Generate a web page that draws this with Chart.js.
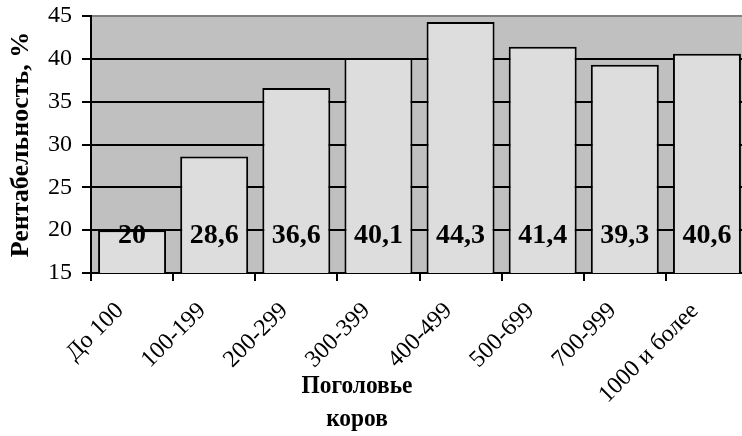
<!DOCTYPE html>
<html>
<head>
<meta charset="utf-8">
<script src="https://cdn.jsdelivr.net/npm/chart.js@4"></script>
<style>
  html, body { margin: 0; padding: 0; background: #fff; overflow: hidden; }
</style>
</head>
<body>
<canvas id="myChart" width="748" height="436"></canvas>
<script>
const categories = ['До 100', '100-199', '200-299', '300-399', '400-499', '500-699', '700-999', '1000 и более'];
const values = [20, 28.6, 36.6, 40.1, 44.3, 41.4, 39.3, 40.6];
const yTicks = [15, 20, 25, 30, 35, 40, 45];
const yTitle = 'Рентабельность, %';
const xTitle = ['Поголовье', 'коров'];

const serif = "'Times New Roman', 'Liberation Serif', serif";

// серый фон области построения
const plotBg = {
    id: 'plotBg',
    beforeDraw(chart) {
        const a = chart.chartArea;
        const c = chart.ctx;
        c.save();
        c.fillStyle = '#C0C0C0';
        c.fillRect(a.left, a.top, a.right - a.left, a.bottom - a.top);
        c.restore();
    }
};

// подписи значений у основания столбцов
const barLabels = {
    id: 'barLabels',
    afterDatasetsDraw(chart) {
        const c = chart.ctx;
        const base = chart.scales.y.getPixelForValue(yTicks[0]);
        c.save();
        c.font = 'bold 28px ' + serif;
        c.fillStyle = '#000';
        c.textAlign = 'center';
        c.textBaseline = 'middle';
        chart.getDatasetMeta(0).data.forEach((bar, i) => {
            c.fillText(String(values[i]).replace('.', ','), bar.x, base - 37);
        });
        c.restore();
    }
};

// название оси X в две строки
const xAxisTitle = {
    id: 'xAxisTitle',
    afterDraw(chart) {
        const c = chart.ctx;
        c.save();
        c.font = 'bold 26px ' + serif;
        c.fillStyle = '#000';
        c.textAlign = 'center';
        c.textBaseline = 'middle';
        xTitle.forEach((t, i) => {
            c.save();
            c.translate(357, 386 + i * 33);
            c.scale(0.9, 1);
            c.fillText(t, 0, 0);
            c.restore();
        });
        c.restore();
    }
};

const ctx = document.getElementById('myChart').getContext('2d');
const myChart = new Chart(ctx, {
    type: 'bar',
    data: {
        labels: categories,
        datasets: [{
            data: values,
            backgroundColor: '#DDDDDD',
            borderColor: '#000',
            borderWidth: 2,
            barPercentage: 0.828,
            categoryPercentage: 1
        }]
    },
    options: {
        responsive: false,
        animation: false,
        layout: { autoPadding: false, padding: { top: 16, left: 0, right: 0, bottom: 0 } },
        plugins: {
            legend: false,
            tooltip: { enabled: false }
        },
        scales: {
            x: {
                grid: {
                    offset: true,
                    drawOnChartArea: false,
                    drawTicks: true,
                    tickLength: 8,
                    color: '#000',
                    lineWidth: 2
                },
                border: { color: '#000', width: 2 },
                ticks: {
                    font: { family: serif, size: 24 },
                    color: '#000',
                    minRotation: 45,
                    maxRotation: 45,
                    padding: 16,
                    labelOffset: -12,
                    autoSkip: false
                },
                afterFit(s) {
                    s.height = 163;
                    s.paddingLeft = 0;
                    s.paddingRight = 0;
                }
            },
            y: {
                min: yTicks[0],
                max: yTicks[yTicks.length - 1],
                ticks: {
                    stepSize: 5,
                    font: { family: serif, size: 24 },
                    color: '#000',
                    padding: 10
                },
                grid: {
                    color: c => c.tick && c.tick.value === yTicks[yTicks.length - 1] ? '#808080' : '#000',
                    tickColor: '#000',
                    lineWidth: 2,
                    tickLength: 9
                },
                border: { color: '#000', width: 2 },
                title: {
                    display: true,
                    text: yTitle,
                    font: { family: serif, size: 26, weight: 'bold' },
                    color: '#000',
                    padding: { top: 6, bottom: 0 }
                },
                afterFit(s) {
                    s.width = 91;
                    s.paddingTop = 0;
                    s.paddingBottom = 0;
                }
            }
        }
    },
    plugins: [plotBg, barLabels, xAxisTitle]
});
</script>
</body>
</html>
